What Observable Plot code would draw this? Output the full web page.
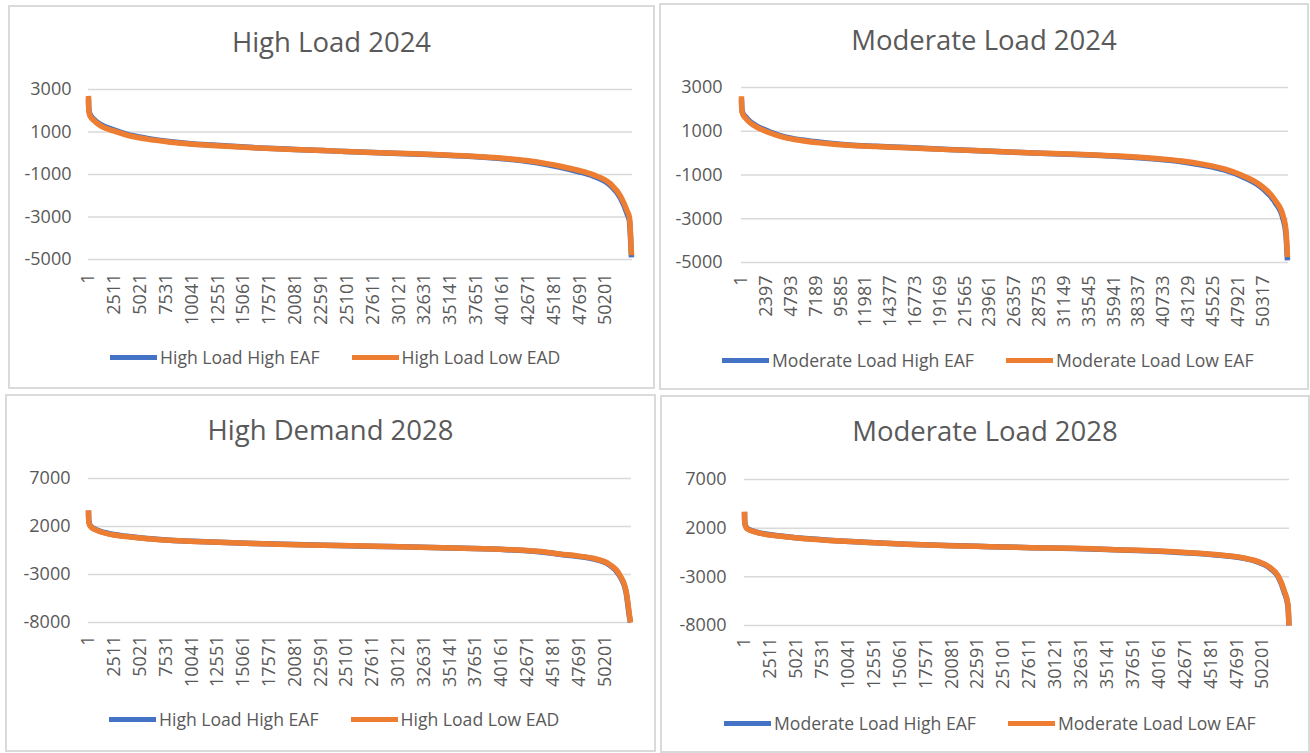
<!DOCTYPE html>
<html>
<head>
<meta charset="utf-8">
<script src="https://cdn.jsdelivr.net/npm/d3@7"></script>
<script src="https://cdn.jsdelivr.net/npm/@observablehq/plot@0.6"></script>
<style>
  html, body { margin: 0; padding: 0; background: #fff; }
  #root { position: relative; width: 1310px; height: 753px; overflow: hidden; background: #fff; font-family: "Open Sans", sans-serif; }
  .panel { position: absolute; border: 2px solid #dadada; box-sizing: border-box; background: #fff; }
  .title { position: absolute; text-align: center; color: #595959; font-size: 27.5px; line-height: 28px; white-space: nowrap; }
  .legend { position: absolute; display: flex; align-items: center; height: 24px; color: #595959; font-size: 17.6px; white-space: nowrap; }
  .sw { width: 47px; height: 5px; margin-right: 3px; }
  .item { display: flex; align-items: center; margin-right: 32px; }
  .plotbox { position: absolute; }
</style>
</head>
<body>
<div id="root"></div>
<script>
// ---------------- DATA ----------------
const N = 52800; // number of sorted hourly points per series

const ticksX_A = [1, 2511, 5021, 7531, 10041, 12551, 15061, 17571, 20081, 22591, 25101, 27611, 30121, 32631, 35141, 37651, 40161, 42671, 45181, 47691, 50201];
const ticksX_B = [1, 2397, 4793, 7189, 9585, 11981, 14377, 16773, 19169, 21565, 23961, 26357, 28753, 31149, 33545, 35941, 38337, 40733, 43129, 45525, 47921, 50317];

const ticksY_2024 = [3000, 1000, -1000, -3000, -5000];
const ticksY_2028 = [7000, 2000, -3000, -8000];

const titles = ["High Load 2024", "Moderate Load 2024", "High Demand 2028", "Moderate Load 2028"];
const legendHigh = ["High Load High EAF", "High Load Low EAD"];
const legendModerate = ["Moderate Load High EAF", "Moderate Load Low EAF"];
const colors = ["#4472C4", "#ED7D31"];

// High Load 2024
const idxHL24 = [1, 10, 40, 120, 250, 500, 1150, 2450, 3700, 5700, 7800, 10200, 12000, 16000, 20000, 24100, 28200, 32300, 36400, 40500, 42500, 44600, 45800, 47500, 49000, 50660, 51630, 52280, 52510, 52600, 52700];
const hl24HighEAF = [2550, 2350, 2060, 1870, 1750, 1610, 1360, 1100, 900, 700, 555, 440, 385, 265, 180, 100, 20, -45, -135, -275, -375, -540, -660, -860, -1080, -1520, -2110, -2850, -3200, -3900, -4900];
const hl24LowEAD = [2700, 2300, 2000, 1800, 1680, 1550, 1300, 1050, 860, 665, 530, 420, 370, 255, 175, 100, 25, -35, -120, -250, -345, -500, -613, -800, -1018, -1440, -2010, -2710, -3030, -3700, -4800];

// Moderate Load 2024
const idxML24 = [1, 10, 40, 120, 390, 800, 1350, 2640, 4000, 5860, 8000, 10360, 13000, 16000, 20000, 24100, 28200, 32300, 36400, 40500, 42500, 44600, 46600, 48300, 50300, 51500, 52300, 52550, 52700];
const ml24HighEAF = [2450, 2300, 2010, 1840, 1660, 1460, 1275, 990, 770, 600, 475, 375, 315, 255, 165, 85, 5, -60, -150, -290, -390, -555, -770, -1070, -1620, -2250, -3050, -3700, -4900];
const ml24LowEAF = [2600, 2250, 1950, 1780, 1600, 1400, 1220, 940, 730, 568, 450, 357, 300, 245, 160, 85, 10, -50, -135, -265, -360, -515, -720, -1010, -1540, -2150, -2900, -3500, -4750];

// High Demand 2028
const idxHD28 = [1, 10, 40, 100, 250, 600, 1160, 2450, 3700, 5700, 7900, 10200, 12000, 16000, 20100, 24200, 28300, 32400, 36500, 40600, 44700, 45800, 47500, 49040, 50660, 51630, 52280, 52600, 52700];
const hd28HighEAF = [3650, 3050, 2560, 2260, 2000, 1750, 1490, 1160, 980, 745, 580, 465, 392, 238, 115, 20, -75, -168, -272, -418, -730, -895, -1100, -1360, -2020, -3100, -4900, -7400, -8000];
const hd28LowEAD = [3700, 3000, 2500, 2200, 1950, 1700, 1450, 1120, 950, 720, 560, 450, 380, 230, 110, 20, -70, -160, -260, -400, -700, -860, -1060, -1310, -1945, -3000, -4760, -7220, -8000];

// Moderate Load 2028
const idxML28 = [1, 10, 40, 100, 300, 1090, 3520, 7570, 11600, 15700, 19700, 23800, 27800, 31900, 35900, 40000, 44000, 46050, 48100, 49700, 50900, 51700, 52300, 52650, 52750];
const ml28HighEAF = [3650, 3050, 2560, 2260, 1950, 1630, 1200, 810, 565, 355, 210, 100, -5, -80, -215, -360, -610, -790, -1040, -1460, -2100, -3000, -4600, -6000, -8000];
const ml28LowEAF = [3700, 3000, 2500, 2200, 1900, 1590, 1170, 790, 550, 345, 205, 100, 0, -70, -205, -345, -585, -760, -1000, -1410, -2030, -2900, -4450, -5830, -8000];

// ---------------- LAYOUT ----------------
const panels = [
  { title: titles[0], box: [8, 5, 647, 384], titleY: 28, legendLeft: 110, legendY: 345, legend: legendHigh,
    svg: [8, 60, 647, 274], margins: [29, 23, 75, 80], padY: 17, padX: 14,
    ticksX: ticksX_A, ticksY: ticksY_2024, idx: idxHL24, series: [hl24HighEAF, hl24LowEAD] },
  { title: titles[1], box: [659, 3, 650, 387], titleY: 26, legendLeft: 722, legendY: 348, legend: legendModerate,
    svg: [660, 60, 648, 277], margins: [27, 20, 75, 81], padY: 19, padX: 13,
    ticksX: ticksX_B, ticksY: ticksY_2024, idx: idxML24, series: [ml24HighEAF, ml24LowEAF] },
  { title: titles[2], box: [5, 394, 651, 358], titleY: 416, legendLeft: 109, legendY: 707, legend: legendHigh,
    svg: [5, 450, 650, 247], margins: [28, 24, 75, 83], padY: 18, padX: 13,
    ticksX: ticksX_A, ticksY: ticksY_2028, idx: idxHD28, series: [hd28HighEAF, hd28LowEAD] },
  { title: titles[3], box: [660, 395, 650, 358], titleY: 417, legendLeft: 724, legendY: 711, legend: legendModerate,
    svg: [661, 450, 647, 250], margins: [29, 19, 75, 83], padY: 18, padX: 12,
    ticksX: ticksX_A, ticksY: ticksY_2028, idx: idxML28, series: [ml28HighEAF, ml28LowEAF] }
];

const root = document.getElementById("root");

for (const p of panels) {
  const box = document.createElement("div");
  box.className = "panel";
  Object.assign(box.style, { left: p.box[0] + "px", top: p.box[1] + "px", width: p.box[2] + "px", height: p.box[3] + "px" });
  root.appendChild(box);

  const t = document.createElement("div");
  t.className = "title";
  t.textContent = p.title;
  Object.assign(t.style, { left: p.box[0] + "px", width: p.box[2] + "px", top: p.titleY + "px" });
  root.appendChild(t);

  const [mt, mr, mb, ml] = p.margins;
  const yDomain = [d3.min(p.ticksY), d3.max(p.ticksY)];
  const lines = p.series.map((vals, k) =>
    Plot.line(p.idx.map((i, j) => ({ i, v: vals[j] })), {
      x: "i", y: "v", stroke: colors[k], strokeWidth: 5.5, curve: "monotone-x", strokeLinejoin: "round", strokeLinecap: "butt"
    })
  );

  const chart = Plot.plot({
    width: p.svg[2],
    height: p.svg[3],
    marginTop: mt, marginRight: mr, marginBottom: mb, marginLeft: ml,
    style: { fontFamily: "Open Sans, sans-serif", fontSize: "18px", color: "#595959", background: "transparent", overflow: "visible" },
    x: { domain: [1, N], axis: null, label: null },
    y: { domain: yDomain, axis: null, label: null },
    marks: [
      Plot.gridY(p.ticksY, { stroke: "#d9d9d9", strokeOpacity: 1, strokeWidth: 1.5 }),
      Plot.axisY(p.ticksY, { tickSize: 0, tickPadding: p.padY, tickFormat: d => String(d), fill: "#595959", label: null }),
      Plot.axisX(p.ticksX, { tickSize: 0, tickPadding: p.padX, tickRotate: -90, tickFormat: d => String(d), fill: "#595959", label: null }),
      ...lines
    ]
  });
  const holder = document.createElement("div");
  holder.className = "plotbox";
  Object.assign(holder.style, { left: p.svg[0] + "px", top: p.svg[1] + "px" });
  holder.appendChild(chart);
  root.appendChild(holder);

  const lg = document.createElement("div");
  lg.className = "legend";
  Object.assign(lg.style, { left: p.legendLeft + "px", top: p.legendY + "px" });
  p.legend.forEach((name, k) => {
    const it = document.createElement("div");
    it.className = "item";
    const sw = document.createElement("div");
    sw.className = "sw";
    sw.style.background = colors[k];
    const tx = document.createElement("span");
    tx.textContent = name;
    it.appendChild(sw);
    it.appendChild(tx);
    lg.appendChild(it);
  });
  root.appendChild(lg);
}
</script>
</body>
</html>
